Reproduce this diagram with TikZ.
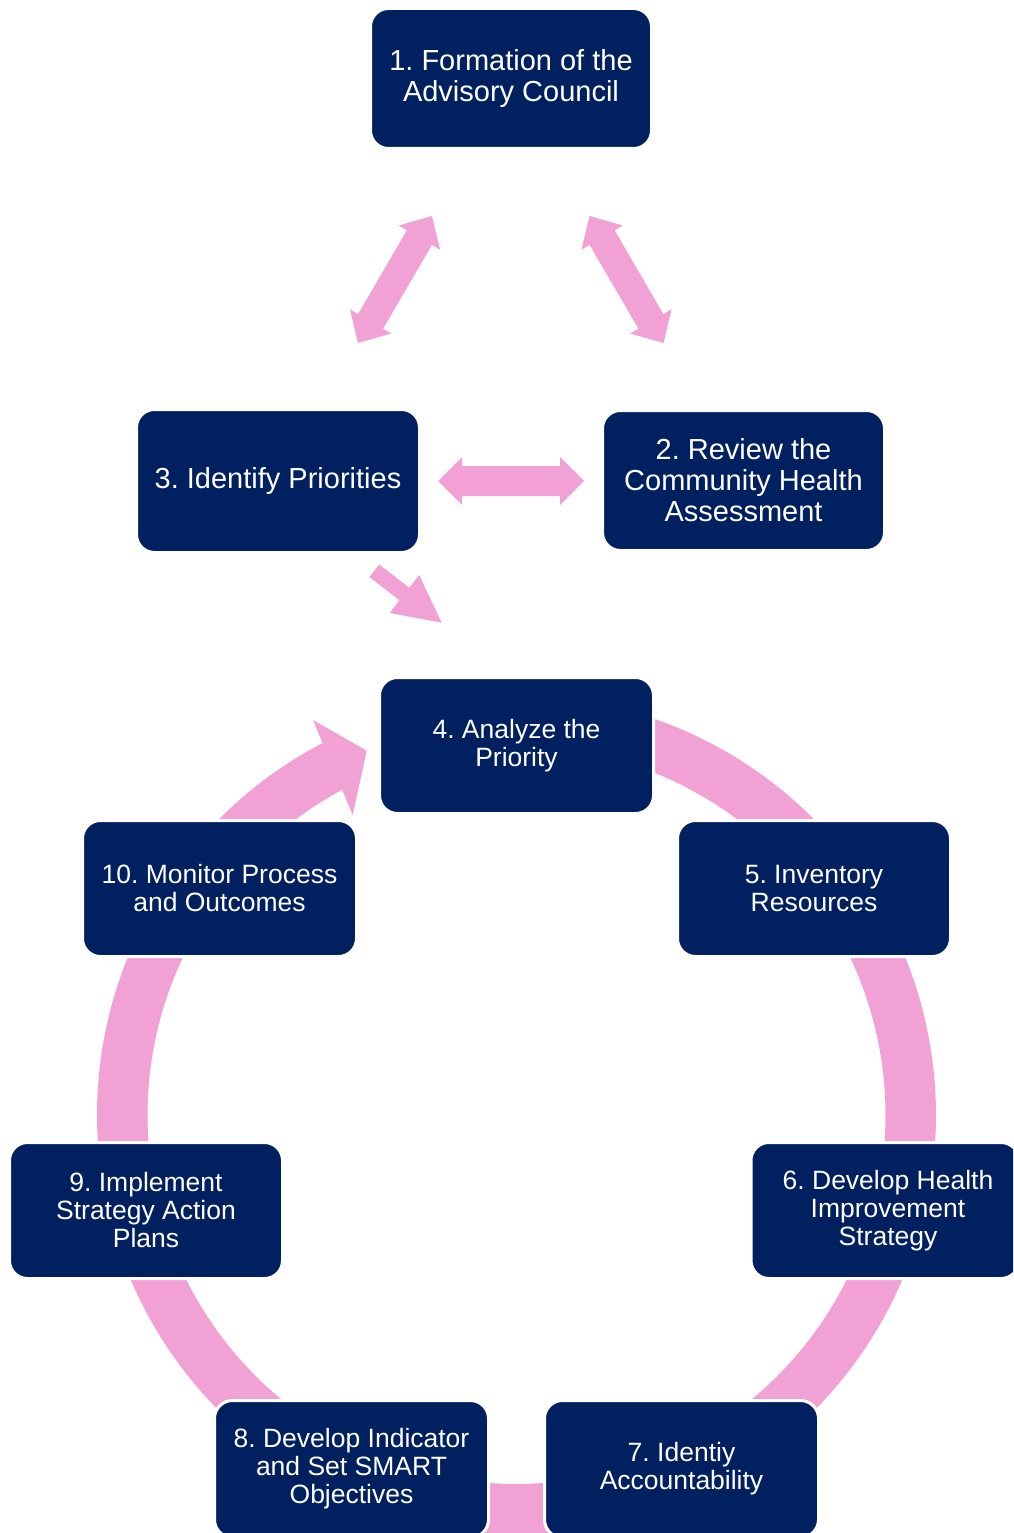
\documentclass[tikz,border=0pt]{standalone}
\usepackage{fontspec}
\setmainfont{Liberation Sans}
\definecolor{navy}{HTML}{002060}
\definecolor{pinkc}{HTML}{F2A1D4}
\frenchspacing
\begin{document}
\frenchspacing
\begin{tikzpicture}[x=1pt,y=-1pt,
  box/.style={fill=navy, draw=white, line width=3pt, rounded corners=18pt, inner sep=0pt, align=center, text=white},
  big/.style={font=\fontsize{29}{31}\selectfont},
  small/.style={font=\fontsize{26.5}{28}\selectfont},
  blockarrow/.style={fill=pinkc, draw=none}]
\useasboundingbox (0,0) rectangle (1013,1533);
\clip (0,0) rectangle (1013,1533);
% ring of the cycle
\draw[pinkc, line width=50.5pt] plot[domain=-90:243, samples=200, smooth] ({516.5+394.25*cos(\x)},{1115+394.25*sin(\x)});
\fill[blockarrow] (313,720) -- (366.7,750.7) -- (352.7,815) -- cycle;
% double arrow 1-3
\fill[blockarrow] (432,216) -- (440.1,249.7) -- (431.9,244.9) -- (383.1,328.7) -- (391.3,333.5) -- (358,343) -- (349.9,309.3) -- (358.1,314.1) -- (406.9,230.3) -- (398.7,225.5) -- cycle;
% double arrow 1-2
\fill[blockarrow] (589.5,216) -- (581.4,249.7) -- (589.6,244.9) -- (638.4,328.7) -- (630.2,333.5) -- (663.5,343) -- (671.6,309.3) -- (663.4,314.1) -- (614.6,230.3) -- (622.8,225.5) -- cycle;
% double arrow 3-2
\fill[blockarrow] (438,481) -- (462,457) -- (462,466) -- (560,466) -- (560,457) -- (584,481) -- (560,505) -- (560,496) -- (462,496) -- (462,505) -- cycle;
% arrow 3-4
\fill[blockarrow] (369.4,577.1) -- (379.2,564.5) -- (409.3,587.7) -- (419.1,575) -- (441.7,622.7) -- (389.7,613) -- (399.5,600.3) -- cycle;
% boxes
\node[box,big,minimum width=281pt,minimum height=140pt] (n1) at (511,78.5) {1. Formation of the\\Advisory Council};
\node[box,big,minimum width=282pt,minimum height=140pt] (n2) at (743.5,480.5) {2. Review the\\Community Health\\Assessment};
\node[box,big,minimum width=283pt,minimum height=143pt] (n3) at (278,481) {3. Identify Priorities};
\node[box,small,minimum width=274pt,minimum height=136pt] (n4) at (516.5,745.5) {4. Analyze the\\Priority};
\node[box,small,minimum width=273pt,minimum height=136pt] (n5) at (814,888.5) {5. Inventory\\Resources};
\node[box,small,minimum width=268pt,minimum height=136pt] (n6) at (885,1210.5) {\hspace*{6pt}6. Develop Health\\\hspace*{6pt}Improvement\\\hspace*{6pt}Strategy};
\node[box,small,minimum width=274pt,minimum height=137pt] (n7) at (681.5,1469) {7. Identiy\\Accountability};
\node[box,small,minimum width=274pt,minimum height=137pt] (n8) at (351.5,1469) {8. Develop Indicator\\and Set SMART\\Objectives};
\node[box,small,minimum width=273pt,minimum height=136pt] (n9) at (146,1210.5) {9. Implement\\Strategy Action\\Plans};
\node[box,small,minimum width=274pt,minimum height=136pt] (n10) at (219.5,888.5) {10. Monitor Process\\and Outcomes};
\end{tikzpicture}
\end{document}
